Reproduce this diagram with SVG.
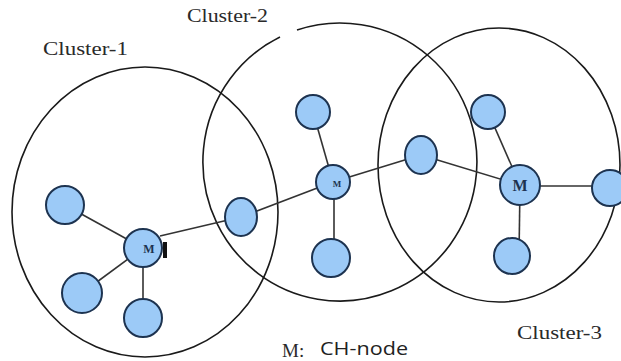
<svg xmlns="http://www.w3.org/2000/svg" width="621" height="361" viewBox="0 0 621 361">
<style>
.cl{fill:none;stroke:#1a1a1a;stroke-width:1.6}
.ed{stroke:#333;stroke-width:1.6;fill:none}
.nd{fill:#9ccaf7;stroke:#1d3350;stroke-width:2}
.lbl{font-family:"Liberation Serif","Times New Roman",serif;font-size:19px;fill:#2a2a2a}
.m{font-family:"Liberation Serif","Times New Roman",serif;font-weight:bold;fill:#1d3350;text-anchor:middle}
.leg{font-family:"Open Sans","Liberation Sans",sans-serif;font-size:19px;fill:#222}
</style>
<rect width="621" height="361" fill="#fff"/>
<g id="clusters">
<ellipse class="cl" cx="145" cy="212" rx="133" ry="145"/>
<path class="cl" d="M 297 30 A 137 139 0 1 1 280 37"/>
<ellipse class="cl" cx="499" cy="165" rx="121" ry="137"/>
</g>
<g id="connectors">
<line class="ed" x1="143" y1="248" x2="65" y2="205"/>
<line class="ed" x1="143" y1="248" x2="82" y2="293"/>
<line class="ed" x1="143" y1="248" x2="143" y2="318"/>
<line class="ed" x1="160" y1="236" x2="241" y2="217"/>
<line class="ed" x1="241" y1="217" x2="333" y2="182"/>
<line class="ed" x1="333" y1="182" x2="313" y2="112"/>
<line class="ed" x1="334" y1="182" x2="334" y2="258"/>
<line class="ed" x1="333" y1="182" x2="421" y2="155"/>
<line class="ed" x1="421" y1="155" x2="520" y2="185"/>
<line class="ed" x1="520" y1="185" x2="488" y2="112"/>
<line class="ed" x1="520" y1="186" x2="610" y2="186"/>
<line class="ed" x1="520" y1="185" x2="519" y2="256"/>
</g>
<g id="c1-head"><circle class="nd" cx="143" cy="248" r="19"/><text class="m" x="149" y="253" font-size="12">M</text><rect x="163" y="242" width="4" height="16" fill="#111"/></g>
<g id="c1-n1"><circle class="nd" cx="65" cy="205" r="19"/></g>
<g id="c1-n2"><circle class="nd" cx="82" cy="293" r="20"/></g>
<g id="c1-n3"><circle class="nd" cx="143" cy="318" r="19"/></g>
<g id="gw1"><ellipse class="nd" cx="241" cy="217" rx="16" ry="19"/></g>
<g id="c2-head"><circle class="nd" cx="333" cy="182" r="17"/><text class="m" x="337" y="187" font-size="9">M</text></g>
<g id="c2-n1"><circle class="nd" cx="313" cy="112" r="17"/></g>
<g id="c2-n2"><circle class="nd" cx="331" cy="258" r="19"/></g>
<g id="gw2"><ellipse class="nd" cx="421" cy="155" rx="16" ry="19"/></g>
<g id="c3-head"><circle class="nd" cx="520" cy="185" r="20"/><text class="m" x="520" y="191" font-size="16">M</text></g>
<g id="c3-n1"><circle class="nd" cx="488" cy="112" r="17"/></g>
<g id="c3-n2"><circle class="nd" cx="512" cy="256" r="18"/></g>
<g id="c3-n3"><circle class="nd" cx="610" cy="188" r="18"/></g>
<g id="labels">
<text class="lbl" x="43" y="55" textLength="85" lengthAdjust="spacingAndGlyphs">Cluster-1</text>
<text class="lbl" x="187" y="22" textLength="81" lengthAdjust="spacingAndGlyphs">Cluster-2</text>
<text class="lbl" x="517" y="339" textLength="85" lengthAdjust="spacingAndGlyphs">Cluster-3</text>
<text class="lbl" x="282" y="357">M:</text>
<text class="leg" x="320" y="355" textLength="88" lengthAdjust="spacingAndGlyphs">CH-node</text>
</g>
</svg>
